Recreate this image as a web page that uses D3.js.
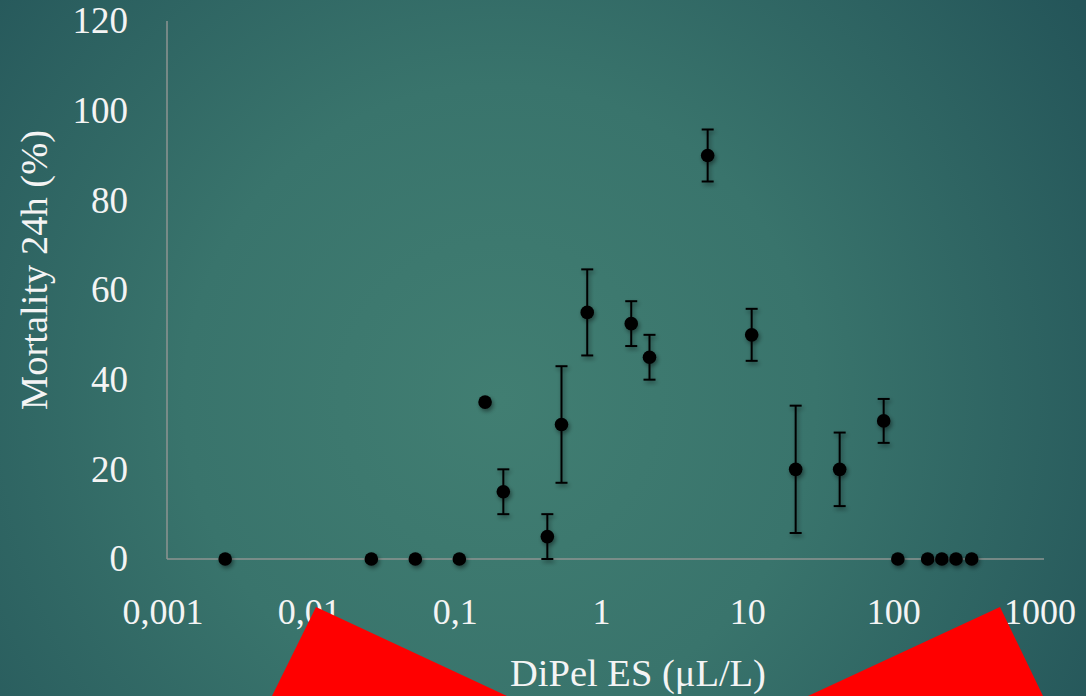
<!DOCTYPE html>
<html>
<head>
<meta charset="utf-8">
<script src="https://cdn.jsdelivr.net/npm/d3@7"></script>
<style>
  html, body { margin: 0; padding: 0; background: #2f6664; }
  svg { display: block; }
  text { font-family: "Liberation Serif", "DejaVu Serif", serif; fill: #f4f4f4; }
</style>
</head>
<body>
<svg id="chart" width="1086" height="696"></svg>
<script>
// concentrations (µL/L), mortality 24h (%) and error (+/-)
const doses = [0.0025, 0.025, 0.05, 0.1, 0.15, 0.2, 0.4, 0.5, 0.75, 1.5, 2, 5, 10, 20, 40, 80, 100, 160, 200, 250, 320];
const mortality = [0, 0, 0, 0, 35, 15, 5, 30, 55, 52.5, 45, 90, 50, 20, 20, 30.8, 0, 0, 0, 0, 0];
const errors = [0, 0, 0, 0, 0, 5, 5, 13, 9.6, 5, 5, 5.8, 5.8, 14.2, 8.2, 4.9, 0, 0, 0, 0, 0];
const xTicks = [0.001, 0.01, 0.1, 1, 10, 100, 1000];
const yTicks = [0, 20, 40, 60, 80, 100, 120];

const svg = d3.select('#chart');
const W = 1086, H = 696;
const margin = { top: 21, right: 42, bottom: 137, left: 167 };
const width = W - margin.left - margin.right;
const height = H - margin.top - margin.bottom;

// background
const defs = svg.append('defs');
const grad = defs.append('radialGradient')
    .attr('id', 'bg').attr('gradientUnits', 'userSpaceOnUse')
    .attr('cx', 500).attr('cy', 400).attr('r', 700);
grad.append('stop').attr('offset', '0%').attr('stop-color', '#417e72');
grad.append('stop').attr('offset', '45%').attr('stop-color', '#39746c');
grad.append('stop').attr('offset', '100%').attr('stop-color', '#245559');

const shadow = defs.append('filter').attr('id', 'shadow')
    .attr('x', '-50%').attr('y', '-50%').attr('width', '200%').attr('height', '200%');
shadow.append('feDropShadow').attr('dx', 1.5).attr('dy', 2.5)
    .attr('stdDeviation', 2).attr('flood-color', '#000').attr('flood-opacity', 0.45);

svg.append('rect').attr('width', W).attr('height', H).attr('fill', 'url(#bg)');

const g = svg.append('g').attr('transform', `translate(${margin.left},${margin.top})`);

const xScale = d3.scaleLog().domain([0.001, 1000]).range([0, width]);
const yScale = d3.scaleLinear().domain([0, 120]).range([height, 0]);

// axes lines
g.append('line').attr('x1', 0).attr('x2', 0).attr('y1', 0).attr('y2', height)
    .attr('stroke', '#8e9492').attr('stroke-width', 1.5);
g.append('line').attr('x1', 0).attr('x2', width).attr('y1', height).attr('y2', height)
    .attr('stroke', '#8e9492').attr('stroke-width', 1.5);

// tick labels
g.selectAll('.ylab').data(yTicks).enter().append('text')
    .attr('class', 'ylab')
    .attr('x', -39).attr('y', d => yScale(d))
    .attr('dy', '0.33em')
    .attr('text-anchor', 'end')
    .style('font-size', '37px')
    .text(d => d);

const fmt = d => String(d).replace('.', ',');
g.selectAll('.xlab').data(xTicks).enter().append('text')
    .attr('class', 'xlab')
    .attr('x', d => xScale(d) - 4).attr('y', height + 65)
    .attr('text-anchor', 'middle')
    .style('font-size', '36px')
    .text(fmt);

// axis titles
svg.append('text')
    .attr('transform', 'translate(47,270) rotate(-90)')
    .attr('text-anchor', 'middle')
    .style('font-size', '38.5px')
    .text('Mortality 24h (%)');
svg.append('text')
    .attr('x', 638).attr('y', 686)
    .attr('text-anchor', 'middle')
    .style('font-size', '38.5px')
    .text('DiPel ES (μL/L)');

// data
const data = doses.map((d, i) => ({ dose: d, m: mortality[i], e: errors[i] }));
const marks = g.append('g').attr('filter', 'url(#shadow)');

const bars = marks.selectAll('.err').data(data.filter(d => d.e > 0)).enter()
    .append('g').attr('class', 'err')
    .attr('stroke', '#000').attr('stroke-width', 2);
bars.append('line')
    .attr('x1', d => xScale(d.dose)).attr('x2', d => xScale(d.dose))
    .attr('y1', d => yScale(d.m - d.e)).attr('y2', d => yScale(d.m + d.e));
bars.append('line')
    .attr('x1', d => xScale(d.dose) - 6).attr('x2', d => xScale(d.dose) + 6)
    .attr('y1', d => yScale(d.m + d.e)).attr('y2', d => yScale(d.m + d.e));
bars.append('line')
    .attr('x1', d => xScale(d.dose) - 6).attr('x2', d => xScale(d.dose) + 6)
    .attr('y1', d => yScale(d.m - d.e)).attr('y2', d => yScale(d.m - d.e));

marks.selectAll('.pt').data(data).enter().append('circle')
    .attr('class', 'pt')
    .attr('cx', d => xScale(d.dose)).attr('cy', d => yScale(d.m))
    .attr('r', 6.8).attr('fill', '#000');

// red decorative triangles from the slide
const tri = [
    [[272, 696], [316, 607], [507, 696]],
    [[808, 696], [1000, 607], [1043, 696]]
];
svg.selectAll('.tri').data(tri).enter().append('polygon')
    .attr('class', 'tri')
    .attr('points', d => d.map(p => p.join(',')).join(' '))
    .attr('fill', '#ff0000');
</script>
</body>
</html>
